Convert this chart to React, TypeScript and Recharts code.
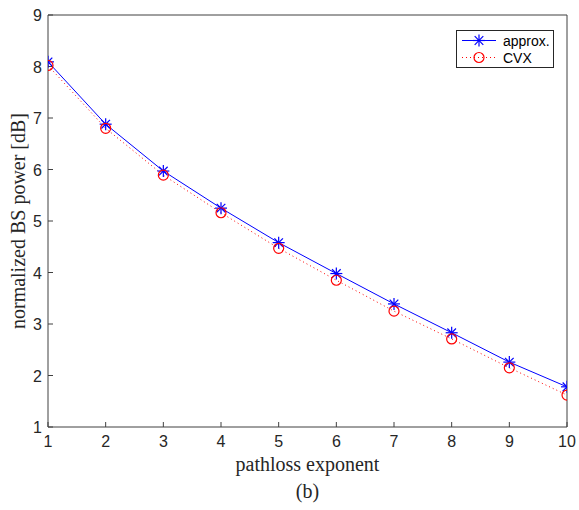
import { LineChart, Line, XAxis, YAxis, Legend, CartesianGrid } from 'recharts';

const exponents = [1, 2, 3, 4, 5, 6, 7, 8, 9, 10];
const approxPower = [8.09, 6.88, 5.97, 5.25, 4.58, 3.98, 3.39, 2.83, 2.26, 1.78];
const cvxPower = [8.02, 6.8, 5.89, 5.16, 4.47, 3.85, 3.25, 2.71, 2.15, 1.62];
const xTicks = [1, 2, 3, 4, 5, 6, 7, 8, 9, 10];
const yTicks = [1, 2, 3, 4, 5, 6, 7, 8, 9];

const data = exponents.map((x, i) => ({ x, approx: approxPower[i], cvx: cvxPower[i] }));

const axisColor = '#404040';
const tickFamily = 'Liberation Sans, Arial, sans-serif';
const labelFont = 'Liberation Serif, Times New Roman, serif';

function XTick(props: any) {
  const { x, y, payload } = props;
  return (
    <text x={x} y={y} dy={12} textAnchor="middle" fontFamily={tickFamily} fontSize={16} fill="#262626">
      {payload.value}
    </text>
  );
}

function YTick(props: any) {
  const { x, y, payload } = props;
  return (
    <text x={x} y={y} dy={6} textAnchor="end" fontFamily={tickFamily} fontSize={16} fill="#262626">
      {payload.value}
    </text>
  );
}

function StarDot(props: any) {
  const { cx, cy } = props;
  if (cx == null || cy == null) return null;
  const r = 6;
  const d = 4.3;
  return (
    <g stroke="#0000ff" strokeWidth={1.2}>
      <line x1={cx - r} y1={cy} x2={cx + r} y2={cy} />
      <line x1={cx} y1={cy - r} x2={cx} y2={cy + r} />
      <line x1={cx - d} y1={cy - d} x2={cx + d} y2={cy + d} />
      <line x1={cx - d} y1={cy + d} x2={cx + d} y2={cy - d} />
    </g>
  );
}

function CircleDot(props: any) {
  const { cx, cy } = props;
  if (cx == null || cy == null) return null;
  return <circle cx={cx} cy={cy} r={5} fill="none" stroke="#ff0000" strokeWidth={1.2} />;
}

function LegendBox() {
  const row = { display: 'flex', alignItems: 'center', height: 17 } as const;
  return (
    <div
      style={{
        border: '1px solid #262626',
        background: '#fff',
        width: 96,
        padding: '1px 0',
        fontFamily: tickFamily,
        fontSize: 14,
        color: '#000',
      }}
    >
      <div style={row}>
        <svg width={46} height={17}>
          <line x1={5} y1={8.5} x2={39} y2={8.5} stroke="#0000ff" strokeWidth={1} />
          <StarDot cx={22} cy={8.5} />
        </svg>
        <span>approx.</span>
      </div>
      <div style={row}>
        <svg width={46} height={17}>
          <line x1={5} y1={8.5} x2={39} y2={8.5} stroke="#ff0000" strokeWidth={1} strokeDasharray="1 3" />
          <CircleDot cx={22} cy={8.5} />
        </svg>
        <span>CVX</span>
      </div>
    </div>
  );
}

export default function App() {
  return (
    <div style={{ position: 'absolute', left: 0, top: 0, width: 579, height: 510, background: '#fff' }}>
      <LineChart width={579} height={510} data={data} margin={{ top: 15, right: 12, bottom: 53, left: 0 }}>
        {/* only the top and right edges of the box */}
        <CartesianGrid
          stroke={axisColor}
          strokeOpacity={1}
          horizontalCoordinatesGenerator={({ offset }: any) => [offset.top]}
          verticalCoordinatesGenerator={({ offset }: any) => [offset.left + offset.width]}
        />
        <XAxis
          dataKey="x"
          type="number"
          domain={[1, 10]}
          ticks={xTicks}
          interval={0}
          tick={<XTick />}
          tickSize={-5}
          tickMargin={13}
          height={30}
          stroke={axisColor}
          allowDataOverflow
          label={{ value: 'pathloss exponent', position: 'insideBottom', offset: -14, style: { fontFamily: labelFont, fontSize: 20, fill: '#262626' } }}
        />
        <YAxis
          type="number"
          domain={[1, 9]}
          ticks={yTicks}
          interval={0}
          tick={<YTick />}
          tickSize={-5}
          tickMargin={11}
          width={48}
          stroke={axisColor}
          allowDataOverflow
          label={{ value: 'normalized BS power [dB]', angle: -90, position: 'center', dx: -6, style: { fontFamily: labelFont, fontSize: 20, fill: '#262626', textAnchor: 'middle' } }}
        />
        <Legend
          layout="vertical"
          align="center"
          verticalAlign="middle"
          wrapperStyle={{ position: 'absolute', left: 456, top: 30, width: 98 }}
          content={() => <LegendBox />}
        />
        <Line
          type="linear"
          dataKey="approx"
          stroke="#0000ff"
          strokeWidth={1}
          dot={<StarDot />}
          activeDot={false}
          isAnimationActive={false}
        />
        <Line
          type="linear"
          dataKey="cvx"
          stroke="#ff0000"
          strokeWidth={1}
          strokeDasharray="1 3"
          dot={<CircleDot />}
          activeDot={false}
          isAnimationActive={false}
        />
      </LineChart>
      <div
        style={{
          position: 'absolute',
          left: 0,
          width: 579,
          top: 480,
          textAlign: 'center',
          fontFamily: labelFont,
          fontSize: 20,
          color: '#262626',
          paddingLeft: 36,
          boxSizing: 'border-box',
        }}
      >
        (b)
      </div>
    </div>
  );
}
